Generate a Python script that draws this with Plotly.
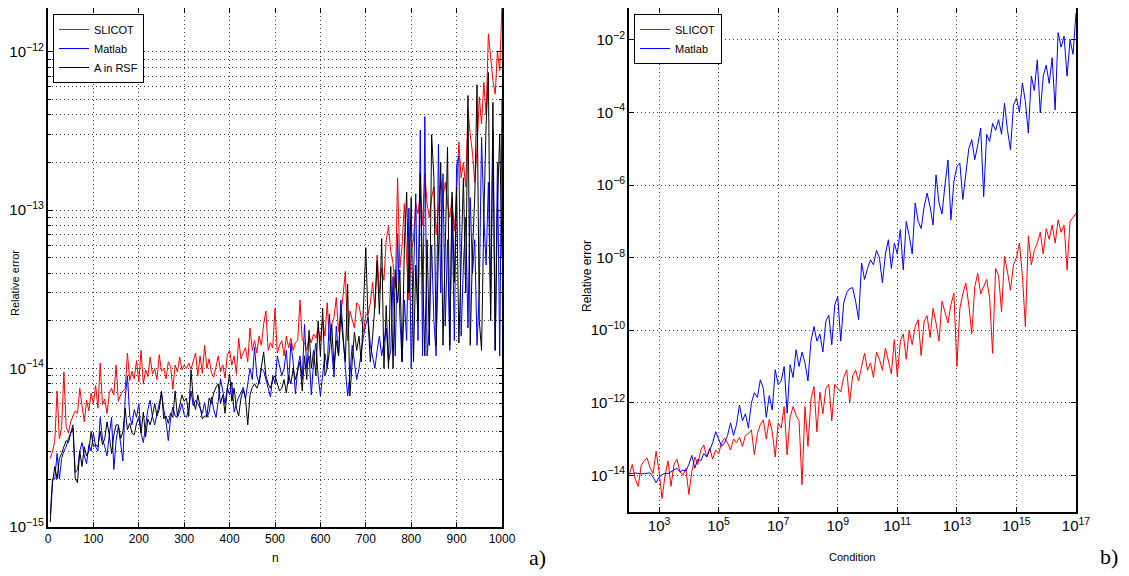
import numpy as np
import plotly.graph_objects as go

# ---------------- data: panel a) ----------------
n = list(range(5, 1001, 5))

slicot_n = [
    2.7e-15, 3.0e-15, 3.5e-15, 7.2e-15, 3.6e-15, 4.2e-15, 9.5e-15, 4.3e-15, 3.9e-15, 4.6e-15,
    5.0e-15, 5.4e-15, 5.2e-15, 7.5e-15, 5.8e-15, 4.6e-15, 6.3e-15, 5.4e-15, 7.0e-15, 6.0e-15,
    7.8e-15, 5.6e-15, 1.08e-14, 5.9e-15, 6.4e-15, 5.2e-15, 7.0e-15, 7.5e-15, 6.8e-15, 1.05e-14,
    6.2e-15, 6.8e-15, 7.2e-15, 7.4e-15, 1.25e-14, 8.4e-15, 9.6e-15, 8.6e-15, 1.12e-14, 8.2e-15,
    1.3e-14, 8.0e-15, 9.8e-15, 8.9e-15, 1.18e-14, 9.2e-15, 1.0e-14, 8.5e-15, 1.22e-14, 9.6e-15,
    1.0e-14, 8.6e-15, 1.1e-14, 1.03e-14, 7.4e-15, 1.05e-14, 9.5e-15, 1.18e-14, 9.8e-15, 1.05e-14,
    1.0e-14, 1.08e-14, 9.9e-15, 1.1e-14, 1.25e-14, 9.0e-15, 1.2e-14, 9.3e-15, 1.4e-14, 1.0e-14,
    1.15e-14, 9.4e-15, 8.8e-15, 1.02e-14, 1.2e-14, 9.5e-15, 1.05e-14, 8.7e-15, 1.22e-14, 1.3e-14,
    1.05e-14, 1.2e-14, 9.2e-15, 1.55e-14, 1.15e-14, 1.25e-14, 1.35e-14, 1.1e-14, 1.8e-14, 1.3e-14,
    1.5e-14, 1.25e-14, 1.6e-14, 1.4e-14, 1.9e-14, 2.3e-14, 1.3e-14, 1.45e-14, 1.35e-14, 2.4e-14,
    1.25e-14, 1.4e-14, 1.5e-14, 1.2e-14, 1.6e-14, 1.35e-14, 1.55e-14, 1.3e-14, 1.45e-14, 1.5e-14,
    2.7e-14, 1.5e-14, 1.45e-14, 1.3e-14, 1.6e-14, 1.45e-14, 1.65e-14, 1.55e-14, 1.8e-14, 1.5e-14,
    2.0e-14, 1.6e-14, 2.6e-14, 1.5e-14, 1.9e-14, 2.1e-14, 2.8e-14, 1.7e-14, 2.2e-14, 2.9e-14,
    4.1e-14, 1.5e-14, 2.3e-14, 2.0e-14, 1.8e-14, 2.6e-14, 2.5e-14, 2.1e-14, 1.7e-14, 2.2e-14,
    2.2e-14, 2.6e-14, 3.5e-14, 2.4e-14, 5.2e-14, 3.0e-14, 4.3e-14, 3.6e-14, 6.5e-14, 7.9e-14,
    5.5e-14, 4.6e-14, 3.2e-14, 1.6e-13, 4.3e-14, 6.0e-14, 1.1e-13, 4.8e-14, 2.7e-14, 5.5e-14,
    6.5e-14, 1.1e-13, 9.5e-14, 1.3e-13, 8.0e-14, 1.7e-13, 1.1e-13, 9.0e-14, 1.2e-13, 1.4e-13,
    7.1e-14, 1.0e-13, 1.55e-13, 1.2e-13, 1.5e-13, 1.1e-13, 9.0e-14, 1.2e-13, 7.4e-14, 1.3e-13,
    2.7e-13, 1.6e-13, 2.0e-13, 1.4e-13, 4.4e-13, 3.0e-13, 2.3e-13, 1.5e-13, 2.4e-13, 5.2e-13,
    3.5e-13, 6.4e-13, 4.0e-13, 1.3e-12, 9.0e-13, 6.6e-13, 5.4e-13, 1.0e-12, 7.6e-13, 2.0e-12,
]

matlab_n = [
    1.2e-15, 2.0e-15, 2.0e-15, 2.9e-15, 2.0e-15, 2.7e-15, 3.0e-15, 3.2e-15, 3.6e-15, 3.9e-15,
    4.4e-15, 2.2e-15, 2.3e-15, 3.0e-15, 3.4e-15, 2.8e-15, 2.5e-15, 3.3e-15, 3.0e-15, 3.9e-15,
    3.2e-15, 3.0e-15, 4.9e-15, 3.6e-15, 3.2e-15, 2.8e-15, 3.8e-15, 4.9e-15, 2.3e-15, 3.5e-15,
    4.3e-15, 3.4e-15, 2.6e-15, 6.5e-15, 9.0e-15, 5.0e-15, 4.4e-15, 5.5e-15, 4.9e-15, 6.0e-15,
    3.9e-15, 3.4e-15, 4.2e-15, 5.5e-15, 6.3e-15, 5.0e-15, 4.4e-15, 5.2e-15, 6.0e-15, 7.0e-15,
    5.5e-15, 4.6e-15, 3.5e-15, 4.8e-15, 5.7e-15, 5.0e-15, 4.9e-15, 5.3e-15, 6.0e-15, 5.1e-15,
    4.9e-15, 5.5e-15, 7.2e-15, 5.8e-15, 6.3e-15, 6.0e-15, 5.6e-15, 5.2e-15, 6.1e-15, 4.9e-15,
    5.3e-15, 6.6e-15, 5.5e-15, 4.9e-15, 6.2e-15, 8.6e-15, 7.2e-15, 6.0e-15, 7.5e-15, 6.8e-15,
    8.2e-15, 5.3e-15, 6.0e-15, 6.6e-15, 7.0e-15, 7.6e-15, 6.4e-15, 8.0e-15, 1.0e-14, 8.5e-15,
    1.36e-14, 9.0e-15, 8.0e-15, 1.0e-14, 9.7e-15, 8.5e-15, 7.5e-15, 6.6e-15, 9.0e-15, 8.0e-15,
    1.2e-14, 1.05e-14, 9.0e-15, 1.0e-14, 1.3e-14, 8.0e-15, 1.44e-14, 1.1e-14, 6.9e-15, 1.0e-14,
    1.2e-14, 8.5e-15, 1.9e-14, 1.0e-14, 1.2e-14, 6.8e-15, 1.1e-14, 1.44e-14, 9.0e-15, 6.7e-15,
    9.5e-15, 1.24e-14, 1.0e-14, 2.2e-14, 1.3e-14, 8.8e-15, 1.85e-14, 1.2e-14, 2.7e-14, 1.5e-14,
    1.0e-14, 6.7e-15, 9.0e-15, 1.4e-14, 1.1e-14, 8.5e-15, 1.0e-14, 1.3e-14, 1.6e-14, 1.9e-14,
    2.1e-14, 1.4e-14, 1.2e-14, 1.0e-14, 1.3e-14, 1.6e-14, 1.2e-14, 1.44e-14, 1.8e-14, 1.1e-14,
    1.3e-14, 3.8e-14, 1.2e-14, 7.1e-14, 2.1e-14, 1.1e-14, 2.7e-14, 1.5e-14, 1.03e-13, 1.0e-14,
    4.5e-14, 1.27e-13, 1.5e-14, 3.2e-13, 1.2e-14, 3.9e-13, 1.2e-14, 1.8e-14, 6.0e-14, 2.0e-14,
    1.2e-14, 2.6e-13, 3.0e-14, 1.7e-13, 1.85e-14, 6.5e-14, 1.3e-14, 1.1e-13, 1.5e-14, 1.9e-13,
    2.2e-13, 1.6e-14, 4.5e-14, 9.0e-14, 1.8e-14, 1.2e-13, 4.0e-14, 6.5e-14, 1.4e-14, 3.1e-14,
    2.9e-13, 9.0e-14, 4.5e-14, 1.5e-13, 2.2e-14, 3.2e-13, 1.3e-14, 2.0e-13, 1.2e-14, 5.0e-13,
]

rsf_n = [
    1.07e-15, 1.9e-15, 2.4e-15, 2.0e-15, 2.7e-15, 2.9e-15, 3.2e-15, 3.5e-15, 3.4e-15, 3.9e-15,
    4.2e-15, 2.0e-15, 1.9e-15, 3.0e-15, 2.4e-15, 3.2e-15, 2.8e-15, 3.0e-15, 4.0e-15, 3.2e-15,
    3.3e-15, 3.2e-15, 4.0e-15, 3.3e-15, 3.6e-15, 4.6e-15, 3.8e-15, 2.9e-15, 3.8e-15, 4.4e-15,
    4.4e-15, 3.6e-15, 4.0e-15, 5.6e-15, 4.1e-15, 4.5e-15, 3.9e-15, 3.8e-15, 4.5e-15, 4.9e-15,
    3.9e-15, 5.3e-15, 3.7e-15, 4.8e-15, 4.4e-15, 5.0e-15, 6.0e-15, 5.0e-15, 5.5e-15, 7.2e-15,
    4.8e-15, 5.0e-15, 4.5e-15, 5.2e-15, 4.9e-15, 7.2e-15, 5.0e-15, 6.0e-15, 6.8e-15, 6.2e-15,
    6.5e-15, 5.0e-15, 9.8e-15, 6.3e-15, 5.5e-15, 6.8e-15, 5.8e-15, 4.8e-15, 5.0e-15, 5.0e-15,
    6.5e-15, 6.0e-15, 7.0e-15, 7.6e-15, 8.0e-15, 6.0e-15, 6.8e-15, 5.2e-15, 7.5e-15, 9.2e-15,
    6.2e-15, 7.5e-15, 5.6e-15, 5.0e-15, 6.5e-15, 7.3e-15, 6.5e-15, 4.4e-15, 6.8e-15, 7.6e-15,
    8.0e-15, 7.5e-15, 8.2e-15, 1.0e-14, 1.27e-14, 9.0e-15, 8.0e-15, 7.5e-15, 8.5e-15, 9.0e-15,
    8.0e-15, 7.2e-15, 7.5e-15, 8.5e-15, 7.0e-15, 9.0e-15, 8.0e-15, 1.0e-14, 8.5e-15, 9.5e-15,
    1.1e-14, 7.2e-15, 1.2e-14, 8.5e-15, 1.74e-14, 1.0e-14, 1.3e-14, 9.0e-15, 2.0e-14, 1.2e-14,
    2.4e-14, 9.0e-15, 1.0e-14, 1.3e-14, 1.9e-14, 1.0e-14, 1.5e-14, 1.2e-14, 2.2e-14, 1.5e-14,
    1.1e-14, 3.4e-14, 6.7e-15, 1.1e-14, 1.7e-14, 1.3e-14, 1.6e-14, 1.1e-14, 2.6e-14, 5.8e-14,
    2.0e-14, 1.1e-14, 1.6e-14, 2.5e-14, 4.8e-14, 2.2e-14, 6.6e-14, 1.0e-14, 2.5e-14, 1.0e-14,
    4.4e-14, 1.0e-14, 4.2e-14, 2.6e-14, 4.2e-14, 1.1e-14, 6.0e-14, 1.3e-13, 3.0e-14, 1.2e-13,
    1.1e-14, 4.5e-14, 2.0e-14, 1.7e-13, 4.2e-14, 1.2e-14, 6.5e-14, 1.4e-14, 3.0e-13, 1.6e-13,
    1.4e-14, 5.5e-14, 2.0e-13, 1.4e-14, 6.0e-14, 2.5e-13, 1.4e-14, 1.3e-13, 3.5e-14, 1.4e-13,
    1.45e-14, 6.0e-14, 1.6e-13, 3.0e-14, 5.3e-13, 1.4e-14, 5.5e-14, 1.2e-13, 6.2e-13, 2.0e-14,
    1.3e-14, 9.0e-14, 3.5e-13, 7.4e-13, 2.0e-14, 4.8e-13, 1.3e-14, 1.1e-13, 3.0e-13, 5.0e-14,
]

# ---------------- data: panel b) ----------------
condition = list(np.logspace(2, 17, 151))

slicot_c = [
    1.05e-14, 2.0e-14, 7.9e-15, 5.0e-15, 1.9e-14, 2.5e-14, 3.0e-14, 1.58e-14, 1.12e-14, 4.6e-14,
    1.26e-14, 2.3e-15, 1.0e-14, 2.5e-14, 5.0e-15, 2.0e-14, 2.8e-14, 1.26e-14, 1.0e-14, 1.58e-14,
    3.0e-15, 1.26e-14, 3.2e-14, 2.0e-14, 5.0e-14, 6.9e-14, 3.2e-14, 5.6e-14, 2.8e-14, 5.0e-14,
    4.0e-14, 7.9e-14, 1.07e-13, 7.9e-14, 5.0e-14, 1.0e-13, 7.9e-14, 1.12e-13, 6.3e-14, 1.26e-13,
    1.41e-13, 1.8e-13, 3.7e-14, 1.41e-13, 2.5e-13, 3.4e-13, 1.0e-13, 3.5e-13, 1.58e-13, 3.2e-14,
    2.8e-13, 2.0e-13, 7.9e-13, 3.7e-14, 4.0e-13, 7.9e-13, 4.5e-13, 3.2e-13, 5.5e-15, 7.9e-13,
    6.3e-14, 1.26e-12, 2.8e-12, 1.58e-13, 2.0e-12, 5.0e-13, 2.5e-12, 3.2e-12, 3.2e-13, 3.2e-12,
    2.5e-12, 2.0e-12, 5.0e-12, 8.1e-12, 1.0e-12, 5.6e-12, 7.9e-12, 4.0e-12, 1.0e-11, 2.3e-11,
    7.9e-12, 1.26e-11, 5.0e-12, 2.5e-11, 1.58e-11, 7.9e-12, 3.2e-11, 1.26e-11, 6.3e-12, 5.5e-11,
    5.2e-12, 5.0e-11, 7.9e-11, 1.58e-11, 1.0e-10, 4.0e-11, 1.26e-10, 1.95e-10, 2.0e-11, 1.78e-10,
    2.5e-10, 6.3e-11, 4.0e-10, 1.58e-10, 5.0e-11, 6.3e-10, 3.2e-10, 1.58e-10, 5.0e-10, 1.05e-9,
    1.0e-11, 4.0e-10, 1.0e-9, 2.0e-9, 5.0e-10, 7.9e-11, 1.58e-9, 3.7e-9, 1.0e-9, 1.58e-9,
    2.5e-9, 7.9e-10, 2.3e-11, 5.0e-9, 3.2e-9, 3.2e-10, 1.07e-8, 4.0e-9, 1.26e-9, 6.3e-9,
    1.0e-8, 2.5e-8, 3.2e-9, 1.26e-10, 4.0e-8, 6.3e-9, 1.58e-8, 2.5e-8, 5.0e-8, 1.26e-8,
    6.3e-8, 3.2e-8, 7.9e-8, 2.5e-8, 1.1e-7, 5.0e-8, 7.9e-8, 4.6e-9, 1.0e-7, 1.26e-7,
    1.66e-7,
]

matlab_c = [
    1.15e-14, 1.12e-14, 1.17e-14, 1.12e-14, 1.1e-14, 1.12e-14, 1.15e-14, 1.17e-14, 8.9e-15, 6.3e-15,
    8.9e-15, 1.05e-14, 1.15e-14, 1.12e-14, 1.26e-14, 1.41e-14, 1.58e-14, 1.26e-14, 1.41e-14, 1.32e-14,
    2.0e-14, 3.55e-14, 1.58e-14, 2.8e-14, 2.5e-14, 4.0e-14, 3.2e-14, 5.0e-14, 7.9e-14, 1.6e-13,
    1.0e-13, 6.3e-14, 7.9e-14, 1.26e-13, 2.8e-13, 1.26e-13, 2.5e-13, 8.7e-13, 3.2e-13, 5.0e-13,
    2.0e-13, 1.0e-12, 1.9e-12, 1.41e-12, 4.3e-12, 2.5e-12, 4.0e-13, 1.58e-12, 6.3e-13, 8.1e-12,
    3.2e-12, 4.0e-12, 1.0e-11, 5.2e-13, 1.12e-11, 5.0e-12, 2.9e-11, 1.0e-11, 2.5e-11, 1.26e-11,
    4.0e-12, 5.0e-11, 1.26e-10, 5.0e-11, 7.9e-11, 2.5e-11, 1.78e-10, 2.6e-10, 4.0e-11, 5.0e-10,
    8.5e-10, 5.0e-11, 5.6e-10, 1.07e-9, 1.41e-9, 1.48e-9, 6.3e-10, 1.95e-10, 7.1e-9, 2.5e-9,
    5.0e-9, 8.7e-9, 6.3e-9, 1.58e-8, 1.0e-8, 2.0e-9, 1.26e-8, 3.1e-8, 5.0e-9, 2.5e-8,
    1.26e-8, 5.9e-8, 4.6e-9, 1.0e-7, 4.0e-8, 1.26e-8, 3.2e-7, 1.0e-7, 6.3e-8, 2.5e-7,
    6.0e-7, 2.5e-7, 7.9e-8, 1.9e-6, 3.2e-7, 1.58e-7, 1.0e-6, 4.9e-6, 1.1e-7, 1.26e-6,
    3.2e-6, 4.0e-6, 4.0e-7, 2.5e-6, 1.0e-5, 1.78e-5, 5.0e-6, 1.26e-5, 3.7e-5, 4.8e-7,
    2.5e-5, 1.58e-5, 5.0e-5, 3.2e-5, 6.3e-5, 2.5e-5, 1.8e-4, 3.2e-5, 9.3e-6, 1.58e-4,
    2.5e-4, 1.0e-4, 6.5e-4, 2.0e-4, 2.7e-5, 1.0e-3, 4.0e-4, 2.8e-3, 9.8e-5, 1.0e-3,
    2.0e-3, 6.3e-4, 3.2e-3, 1.17e-4, 1.58e-2, 6.3e-3, 1.26e-2, 1.0e-3, 1.0e-2, 4.0e-3,
    5.5e-2,
]

# ---------------- layout helpers ----------------
W, H = 1129, 576
OFF = 8  # default page margin of the html body
FONT = "Liberation Sans, Arial, sans-serif"
SERIF = "Liberation Serif, DejaVu Serif, serif"
GRIDC = "rgba(0,0,0,0.75)"
DOT = "1px,3px"

def fx(p):
    return (p - OFF) / W

def fy(p):
    return min(1.0, 1 - (p - OFF) / H)

axis_common = dict(
    showline=True, linecolor="black", linewidth=1.5, mirror="allticks",
    ticks="inside", ticklen=5, tickcolor="black", tickwidth=1,
    tickfont=dict(family=FONT, size=12, color="black"),
    zeroline=False, showgrid=True, gridcolor=GRIDC, gridwidth=1, griddash=DOT,
    automargin=False,
)

fig = go.Figure()
fig.add_trace(go.Scatter(x=n, y=slicot_n, mode="lines", name="SLICOT",
                         line=dict(color="#ff0000", width=1), xaxis="x", yaxis="y", legend="legend"))
fig.add_trace(go.Scatter(x=n, y=matlab_n, mode="lines", name="Matlab",
                         line=dict(color="#0000ff", width=1), xaxis="x", yaxis="y", legend="legend"))
fig.add_trace(go.Scatter(x=n, y=rsf_n, mode="lines", name="A in RSF",
                         line=dict(color="#000000", width=1), xaxis="x", yaxis="y", legend="legend"))
fig.add_trace(go.Scatter(x=condition, y=slicot_c, mode="lines", name="SLICOT",
                         line=dict(color="#ff0000", width=1), xaxis="x2", yaxis="y2", legend="legend2"))
fig.add_trace(go.Scatter(x=condition, y=matlab_c, mode="lines", name="Matlab",
                         line=dict(color="#0000ff", width=1), xaxis="x2", yaxis="y2", legend="legend2"))

legend_style = dict(xanchor="left", yanchor="top", bordercolor="black", borderwidth=1,
                    bgcolor="white", font=dict(family=FONT, size=11, color="black"),
                    itemwidth=30, tracegroupgap=0)

fig.update_layout(
    width=W, height=H, margin=dict(l=0, r=0, t=0, b=0, autoexpand=False),
    paper_bgcolor="white", plot_bgcolor="white",
    xaxis=dict(domain=[fx(48), fx(502)], range=[0, 1000], dtick=100, anchor="y", **axis_common),
    yaxis=dict(domain=[fy(526.7), fy(8)], type="log", range=[-15, -11.723], dtick=1,
               exponentformat="power", anchor="x",
               minor=dict(dtick="D1", showgrid=True, gridcolor=GRIDC, griddash=DOT,
                          gridwidth=1, ticks="inside", ticklen=3, tickcolor="black"),
               **axis_common),
    xaxis2=dict(domain=[fx(629.3), fx(1076)], type="log", range=[2, 17], dtick=2, tick0=1,
                exponentformat="power", anchor="y2", **axis_common),
    yaxis2=dict(domain=[fy(511.7), fy(8)], type="log", range=[-15, -1.124], dtick=2, tick0=0,
                exponentformat="power", anchor="x2", **axis_common),
    legend=dict(x=fx(53), y=fy(14), **legend_style),
    legend2=dict(x=fx(634), y=fy(14), **legend_style),
    annotations=[
        dict(text="n", x=fx(275), y=fy(558), xref="paper", yref="paper", showarrow=False,
             xanchor="center", yanchor="middle", font=dict(family=FONT, size=12, color="black")),
        dict(text="Condition", x=fx(852), y=fy(557), xref="paper", yref="paper", showarrow=False,
             xanchor="center", yanchor="middle", font=dict(family=FONT, size=11, color="black")),
        dict(text="Relative error", x=fx(15), y=fy(283), xref="paper", yref="paper", showarrow=False,
             textangle=-90, xanchor="center", yanchor="middle",
             font=dict(family=FONT, size=11, color="black")),
        dict(text="Relative error", x=fx(587), y=fy(276), xref="paper", yref="paper", showarrow=False,
             textangle=-90, xanchor="center", yanchor="middle",
             font=dict(family=FONT, size=12, color="black")),
        dict(text="a)", x=fx(537), y=fy(557), xref="paper", yref="paper", showarrow=False,
             xanchor="center", yanchor="middle", font=dict(family=SERIF, size=22, color="black")),
        dict(text="b)", x=fx(1109), y=fy(556), xref="paper", yref="paper", showarrow=False,
             xanchor="center", yanchor="middle", font=dict(family=SERIF, size=22, color="black")),
    ],
)

fig.write_html("out.html", config={"displayModeBar": False})
